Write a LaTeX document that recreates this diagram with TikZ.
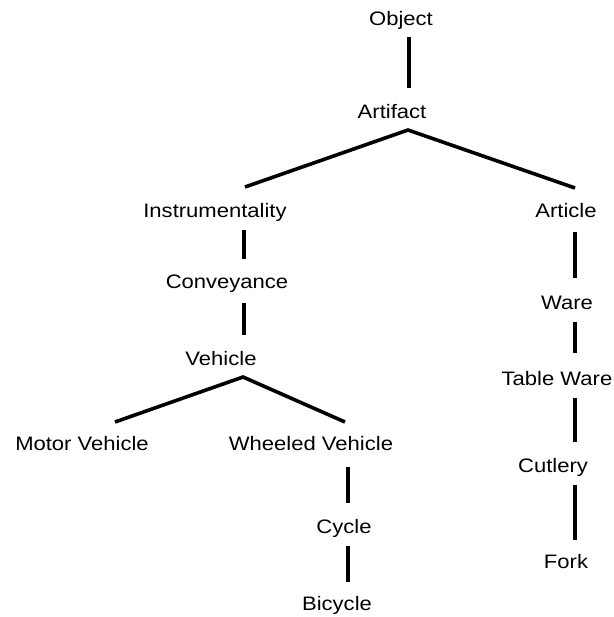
\documentclass[tikz,border=0pt]{standalone}
\usepackage{fontspec}
\setmainfont{Liberation Sans}[FakeStretch=1.13]
\begin{document}
\begin{tikzpicture}[x=1pt,y=-1pt,
  lbl/.style={inner sep=0pt,text height=13.5pt,text depth=0pt,font=\fontsize{19.5}{22}\selectfont},
  edge/.style={line width=3.6pt,black}]
\useasboundingbox (0,0) rectangle (613,617);
\node[lbl] (obj) at (401,19) {Object};
\node[lbl] (art) at (392,112) {Artifact};
\node[lbl] (ins) at (215,211) {Instrumentality};
\node[lbl] (con) at (227,282) {Conveyance};
\node[lbl] (veh) at (221,359) {Vehicle};
\node[lbl] (mot) at (82,444) {Motor Vehicle};
\node[lbl] (whe) at (311,444) {Wheeled Vehicle};
\node[lbl] (cyc) at (344,527) {Cycle};
\node[lbl] (bic) at (337,604) {Bicycle};
\node[lbl] (arti) at (566,211) {Article};
\node[lbl] (war) at (567,303) {Ware};
\node[lbl] (tab) at (557,379) {Table Ware};
\node[lbl] (cut) at (553,466) {Cutlery};
\node[lbl] (for) at (566,562) {Fork};
\draw[edge] ([shift={(8,18)}]obj.center) -- ([shift={(17,-24)}]art.center);
\draw[edge] ([shift={(30,-24)}]ins.center) -- ([shift={(16,18)}]art.center) -- ([shift={(9,-23)}]arti.center);
\draw[edge] ([shift={(29,19)}]ins.center) -- ([shift={(17,-23)}]con.center);
\draw[edge] ([shift={(17,21)}]con.center) -- ([shift={(23,-24)}]veh.center);
\draw[edge] ([shift={(33,-22)}]mot.center) -- ([shift={(22,18)}]veh.center) -- ([shift={(34,-22)}]whe.center);
\draw[edge] ([shift={(37,23)}]whe.center) -- ([shift={(4,-24)}]cyc.center);
\draw[edge] ([shift={(4,19)}]cyc.center) -- ([shift={(11,-22)}]bic.center);
\draw[edge] ([shift={(9,21)}]arti.center) -- ([shift={(8,-25)}]war.center);
\draw[edge] ([shift={(8,19)}]war.center) -- ([shift={(18,-26)}]tab.center);
\draw[edge] ([shift={(18,19)}]tab.center) -- ([shift={(22,-24)}]cut.center);
\draw[edge] ([shift={(22,19)}]cut.center) -- ([shift={(9,-22)}]for.center);
\end{tikzpicture}
\end{document}
